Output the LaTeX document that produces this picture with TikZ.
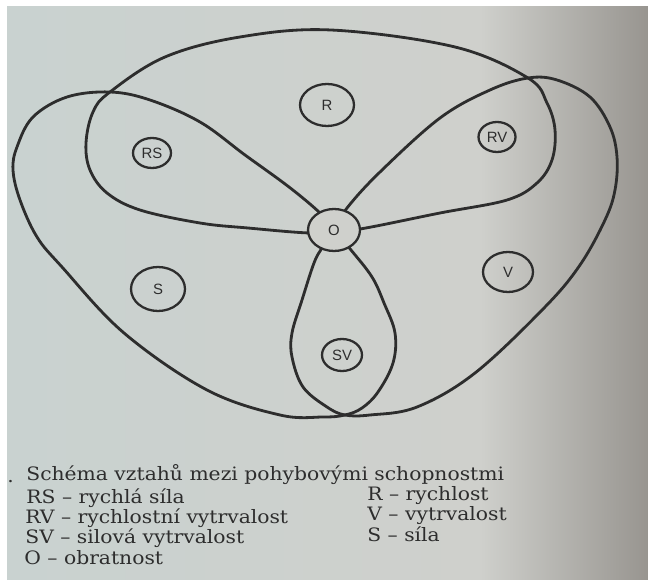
\documentclass[tikz,border=0pt]{standalone}
\usepackage{fontspec}
\setmainfont{DejaVu Serif}
\setsansfont{Liberation Sans}
\usetikzlibrary{shapes.geometric}
\definecolor{paper}{RGB}{207,208,204}
\definecolor{paperL}{RGB}{201,210,208}
\definecolor{paperR}{RGB}{152,149,144}
\definecolor{ink}{RGB}{45,45,45}

\begin{document}
\begin{tikzpicture}[x=0.02cm, y=-0.02cm,
    lobe/.style={draw=ink, line width=1.6pt, line join=round},
    ability/.style 2 args={ellipse, draw=ink, line width=1.3pt, inner sep=0pt,
      minimum width=#1, minimum height=#2, text=ink,
      font=\sffamily\fontsize{8.5}{10}\selectfont},
    legend/.style={anchor=base west, xscale=1.1, inner sep=0pt, text=ink,
      font=\fontsize{10.5}{12}\selectfont}]
  % photographed page
  \fill[white] (0,0) rectangle (648,580);
  \shade[left color=paperL, right color=paper] (7,7) rectangle (480,580);
  \shade[left color=paper, right color=paperR] (480,7) rectangle (648,580);
  \useasboundingbox (0,0) rectangle (648,580);

  % top lobe: R, RS, RV
  \draw[lobe] plot[smooth, tension=0.6] coordinates {(334,230) (310,233) (248,228)
    (200,223) (140,210) (107,193) (90,170) (86,143) (93,112) (110,92) (165,57)
    (240,37) (331,30) (455,47) (528,78) (547,103) (555,130) (552,160) (537,183)
    (507,200) (440,213) (360,229) (334,230)};

  % left lobe: S, RS, SV
  \draw[lobe] plot[smooth, tension=0.6] coordinates {(334,230) (320,213) (289,187)
    (245,155) (200,122) (150,100) (110,92) (67,97) (33,117) (17,147) (13,170)
    (20,200) (37,237) (62,267) (124,333) (207,390) (280,415) (323,417) (345,415)
    (362,408) (378,392) (393,363) (395,333) (384,303) (372,277) (351,250) (334,230)};

  % right lobe: V, RV, SV
  \draw[lobe] plot[smooth, tension=0.6] coordinates {(334,230) (347,208) (380,172)
    (440,118) (490,90) (528,78) (557,80) (590,97) (610,127) (617,157) (615,190)
    (605,220) (580,265) (545,307) (475,373) (417,407) (370,415) (345,415) (327,407)
    (303,387) (292,357) (292,333) (302,300) (314,263) (322,248) (334,230)};

  % abilities
  \node[ability={1.04cm}{0.84cm}, fill=paper] (O) at (334,230) {O};
  \node[ability={1.08cm}{0.84cm}] (R) at (327,105) {R};
  \node[ability={0.76cm}{0.60cm}] (RS) at (152,153) {RS};
  \node[ability={0.74cm}{0.60cm}] (RV) at (497,137) {RV};
  \node[ability={1.08cm}{0.88cm}] (S) at (158,289) {S};
  \node[ability={1.00cm}{0.80cm}] (V) at (508,272) {V};
  \node[ability={0.80cm}{0.64cm}] (SV) at (342,355) {SV};

  % caption
  \node[legend] (dot) at (7,482) {.};
  \node[legend] (title) at (26,480) {Schéma vztahů mezi pohybovými schopnostmi};
  \node[legend] (keyRS) at (26,503) {RS -- rychlá síla};
  \node[legend] (keyRV) at (25,523) {RV -- rychlostní vytrvalost};
  \node[legend] (keySV) at (25,543) {SV -- silová vytrvalost};
  \node[legend] (keyO) at (24,564) {O -- obratnost};
  \node[legend] (keyR) at (367,500) {R -- rychlost};
  \node[legend] (keyV) at (367,520) {V -- vytrvalost};
  \node[legend] (keyS) at (367,541) {S -- síla};
\end{tikzpicture}
\end{document}
